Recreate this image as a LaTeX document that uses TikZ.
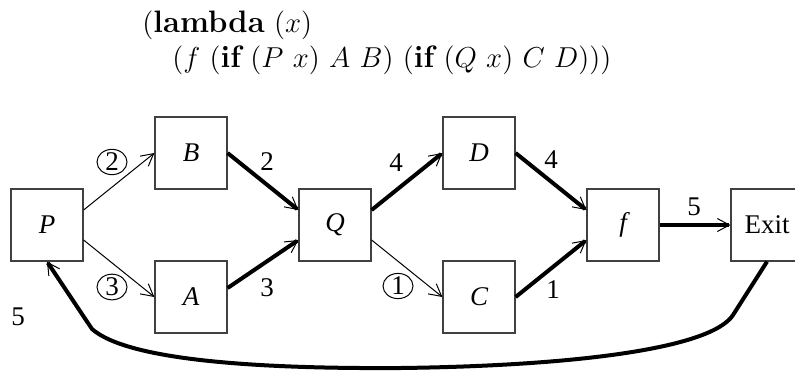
\documentclass[tikz,border=0pt]{standalone}
\usepackage{fontspec}
\newfontfamily\tms{Liberation Serif}
\usetikzlibrary{arrows.meta,shapes.geometric}
\begin{document}
\begin{tikzpicture}[x=0.5pt,y=-0.5pt,
  box/.style={draw=black!75,line width=0.6pt,minimum width=36pt,minimum height=36pt,inner sep=0pt,font=\tms\fontsize{13.5}{16}\selectfont},
  tip/.style={-{Straight Barb[length=6pt,width=6.5pt,line width=0.5pt 0]}},
  thin/.style={tip,line width=0.5pt},
  heavy/.style={tip,line width=2pt},
  lab/.style={inner sep=0pt,font=\tms\fontsize{13.5}{16}\selectfont},
  clab/.style={lab,draw,ellipse,line width=0.5pt,minimum width=15pt,minimum height=12.5pt},
  code/.style={anchor=base west,inner sep=0pt,font=\fontsize{15.5}{18}\selectfont}]
\useasboundingbox (0,0) rectangle (795,371);
\node[code] (l1) at (142,32) {$(\textbf{lambda}\ (x)$};
\node[code] (l2) at (172,67) {$(f\ (\textbf{if}\ (P\ x)\ A\ B)\ (\textbf{if}\ (Q\ x)\ C\ D)))$};
\node[box] (P) at (47,225) {\itshape P};
\node[box] (B) at (191,153) {\itshape B};
\node[box] (A) at (191,297) {\itshape A};
\node[box] (Q) at (335,225) {\itshape Q};
\node[box] (D) at (479,153) {\itshape D};
\node[box] (C) at (479,297) {\itshape C};
\node[box] (f) at (623,225) {\itshape f};
\node[box] (E) at (767,225) {Exit};
\draw[thin] ([yshift=7.5pt]P.east) -- (B.west);
\draw[thin] ([yshift=-7.5pt]P.east) -- (A.west);
\draw[heavy] (B.east) -- ([yshift=7.5pt]Q.west);
\draw[heavy] ([yshift=4.5pt]A.east) -- ([yshift=-7.5pt]Q.west);
\draw[heavy] ([yshift=7.5pt]Q.east) -- (D.west);
\draw[thin] ([yshift=-7.5pt]Q.east) -- (C.west);
\draw[heavy] (D.east) -- ([yshift=7.5pt]f.west);
\draw[heavy] (C.east) -- ([yshift=-7.5pt]f.west);
\draw[heavy] (f.east) -- (E.west);
\draw[heavy] (E.south) -- (733,315) .. controls (710,350) and (565,366) .. (400,368) .. controls (240,369) and (125,358) .. (92,329) -- (P.south);
\node[clab] (c2) at (112,162) {2};
\node[clab] (c3) at (112,287) {3};
\node[clab] (c1) at (398,286) {1};
\node[lab] (n2) at (267,162) {2};
\node[lab] (n3) at (267,288) {3};
\node[lab] (n4a) at (396,163) {4};
\node[lab] (n4b) at (551,160) {4};
\node[lab] (n1) at (553,290) {1};
\node[lab] (n5a) at (694,207) {5};
\node[lab] (n5b) at (18,317) {5};
\end{tikzpicture}
\end{document}
